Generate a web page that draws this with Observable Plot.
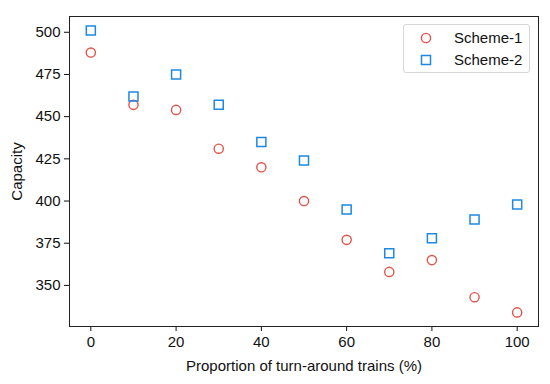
<!DOCTYPE html>
<html><head><meta charset="utf-8">
<script src="https://cdn.jsdelivr.net/npm/d3@7"></script>
<script src="https://cdn.jsdelivr.net/npm/@observablehq/plot@0.6"></script>
<style>
body{margin:0;background:#fff;font-family:"Liberation Sans",Arial,sans-serif;}
#wrap{position:relative;width:550px;height:384px;}
.legend{position:absolute;left:403px;top:24px;width:127px;height:49px;border:1px solid #d6d6d6;border-radius:3px;background:rgba(255,255,255,0.85);box-sizing:border-box;font-size:15px;color:#111;}
.legend .row{position:absolute;left:0;height:16px;}
.legend svg{position:absolute;left:14px;top:0;}
.legend span{position:absolute;left:50px;top:-1px;line-height:17px;white-space:nowrap;}
</style></head><body><div id="wrap"></div>
<script>
const proportions = [0, 10, 20, 30, 40, 50, 60, 70, 80, 90, 100];
const scheme1 = [488, 457, 454, 431, 420, 400, 377, 358, 365, 343, 334];
const scheme2 = [501, 462, 475, 457, 435, 424, 395, 369, 378, 389, 398];
const seriesNames = ["Scheme-1", "Scheme-2"];
const seriesColors = ["#e5534b", "#1e88e5"];
const seriesSymbols = ["circle", "square"];
const xTicks = [0, 20, 40, 60, 80, 100];
const yTicks = [350, 375, 400, 425, 450, 475, 500];

const d1 = proportions.map((p, i) => ({x: p, y: scheme1[i], series: seriesNames[0]}));
const d2 = proportions.map((p, i) => ({x: p, y: scheme2[i], series: seriesNames[1]}));

const plot = Plot.plot({
  width: 550, height: 384,
  marginLeft: 69, marginRight: 12, marginTop: 16, marginBottom: 58,
  style: {fontFamily: "Liberation Sans, Arial, sans-serif", fontSize: "15px", color: "#111", background: "white"},
  x: {domain: [-5, 105]},
  y: {domain: [325.65, 509.35]},
  marks: [
    Plot.axisX({ticks: xTicks, tickSize: 5, tickPadding: 5, fontSize: 15,
      label: "Proportion of turn-around trains (%)", labelAnchor: "center", labelArrow: "none", labelOffset: 44}),
    Plot.axisY({ticks: yTicks, tickSize: 5, tickPadding: 4, fontSize: 15,
      label: "Capacity", labelAnchor: "center", labelArrow: "none", labelOffset: 58}),
    Plot.dot(d1, {x: "x", y: "y", symbol: seriesSymbols[0], r: 4.6, stroke: seriesColors[0], strokeWidth: 1.4, fill: "none"}),
    Plot.dot(d2, {x: "x", y: "y", symbol: seriesSymbols[1], r: 5.1, stroke: seriesColors[1], strokeWidth: 1.5, fill: "none"}),
    Plot.frame({stroke: "#222", strokeWidth: 1})
  ]
});
const wrap = document.getElementById("wrap");
wrap.appendChild(plot);

const legend = document.createElement("div");
legend.className = "legend";
const shapes = {
  circle: c => `<circle cx="8" cy="8" r="4.6" fill="none" stroke="${c}" stroke-width="1.4"/>`,
  square: c => `<rect x="3.5" y="3.5" width="9" height="9" fill="none" stroke="${c}" stroke-width="1.5"/>`
};
seriesNames.forEach((name, i) => {
  const row = document.createElement("div");
  row.className = "row";
  row.style.top = (5 + i * 22) + "px";
  row.style.width = "100%";
  row.innerHTML = `<svg width="16" height="16">${shapes[seriesSymbols[i]](seriesColors[i])}</svg><span>${name}</span>`;
  legend.appendChild(row);
});
wrap.appendChild(legend);
</script>
</body></html>
